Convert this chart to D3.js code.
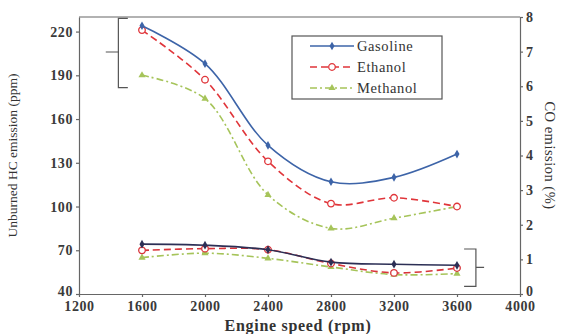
<!DOCTYPE html>
<html>
<head>
<meta charset="UTF-8" />
<title>HC and CO emission</title>
<script src="https://cdn.jsdelivr.net/npm/d3@7"></script>
<style>
    body { margin: 0; background: #fff; }
</style>
</head>
<body>
<script>
    // engine speed (rpm)
    const speeds = [1600, 2000, 2400, 2800, 3200, 3600];
    // unburned HC (ppm), left axis
    const hcGasoline = [224, 198, 142, 117, 120, 136];
    const hcEthanol = [221, 187, 131, 102, 106, 100];
    const hcMethanol = [190, 174, 108, 85, 92, 100];
    // CO (%), right axis
    const coGasoline = [1.44, 1.41, 1.28, 0.92, 0.86, 0.83];
    const coEthanol = [1.26, 1.31, 1.28, 0.88, 0.61, 0.75];
    const coMethanol = [1.05, 1.18, 1.03, 0.78, 0.56, 0.59];

    const xTicks = [1200, 1600, 2000, 2400, 2800, 3200, 3600, 4000];
    const hcTicks = [40, 70, 100, 130, 160, 190, 220];
    const coTicks = [0, 1, 2, 3, 4, 5, 6, 7, 8];
    const fuels = ["Gasoline", "Ethanol", "Methanol"];

    const serif = "Liberation Serif";

    let w = 568, h = 334;
    let m = { top: 17, right: 48, bottom: 40, left: 79 };

    let svg = d3.select("body").append("svg")
        .attr("width", w)
        .attr("height", h)
        .attr("font-family", serif);

    let x = d3.scaleLinear().domain([1200, 4000]).range([m.left, w - m.right]);
    let yL = d3.scaleLinear().domain([40, 230]).range([h - m.bottom, m.top]);
    let yR = d3.scaleLinear().domain([0, 8]).range([h - m.bottom, m.top]);

    const styles = {
        Gasoline: { color: "#3d64a8", low: "#2c2f55", dash: null, mark: "diamond" },
        Ethanol: { color: "#e0353a", low: "#d8343a", dash: "7,4", mark: "circle" },
        Methanol: { color: "#a6c45a", low: "#a6c45a", dash: "7,3,2,3", mark: "triangle" }
    };

    // axes
    let axisColor = "#666";
    let fmt = d3.format("d");
    let bottom = svg.append("g")
        .attr("transform", "translate(0," + (h - m.bottom) + ")")
        .call(d3.axisBottom(x).tickValues(xTicks).tickFormat(fmt).tickSize(3).tickPadding(2).tickSizeOuter(0));
    let left = svg.append("g")
        .attr("transform", "translate(" + m.left + ",0)")
        .call(d3.axisLeft(yL).tickValues(hcTicks).tickFormat(fmt).tickSize(3).tickSizeOuter(0));
    let right = svg.append("g")
        .attr("transform", "translate(" + (w - m.right) + ",0)")
        .call(d3.axisRight(yR).tickValues(coTicks).tickFormat(fmt).tickSize(3).tickSizeOuter(0));

    [bottom, left, right].forEach(function (a) {
        a.attr("font-family", serif).attr("font-size", 14);
        a.selectAll("path, line").attr("stroke", axisColor).attr("stroke-width", 1.2);
        a.selectAll("text")
            .attr("fill", "#3a3a3a")
            .attr("font-weight", "bold")
            .attr("letter-spacing", 0.6);
    });
    bottom.selectAll("text").attr("dy", "0.85em");
    // lift the lowest y labels a little so they clear the x labels
    left.selectAll("text").filter(function (d) { return d === 40; }).attr("dy", "0.12em");
    right.selectAll("text").filter(function (d) { return d === 0; }).attr("dy", "0.12em");

    // top frame line
    svg.append("line")
        .attr("x1", m.left).attr("x2", w - m.right)
        .attr("y1", m.top).attr("y2", m.top)
        .attr("stroke", axisColor).attr("stroke-width", 1.2);

    // axis titles
    svg.append("text")
        .attr("transform", "translate(17," + ((m.top + h - m.bottom) / 2) + ") rotate(-90)")
        .attr("text-anchor", "middle")
        .attr("fill", "#333")
        .attr("font-size", 13.5)
        .text("Unburned HC emission (ppm)");
    svg.append("text")
        .attr("transform", "translate(545," + ((m.top + h - m.bottom) / 2) + ") rotate(90)")
        .attr("text-anchor", "middle")
        .attr("fill", "#333")
        .attr("font-size", 14.5)
        .attr("letter-spacing", 0.5)
        .text("CO emission (%)");
    svg.append("text")
        .attr("x", 298).attr("y", 330.5)
        .attr("text-anchor", "middle")
        .attr("fill", "#333")
        .attr("font-size", 16)
        .attr("font-weight", "bold")
        .attr("letter-spacing", 0.7)
        .text("Engine speed (rpm)");

    function marker(sel, type, color) {
        if (type === "circle") {
            sel.append("circle").attr("r", 3.3)
                .attr("fill", "#fff").attr("stroke", color).attr("stroke-width", 1.3);
        } else {
            let sym = type === "diamond" ? d3.symbolDiamond : d3.symbolTriangle;
            sel.append("path").attr("d", d3.symbol().type(sym).size(22)())
                .attr("fill", color);
        }
    }

    function drawSeries(values, yScale, st, color) {
        let pts = speeds.map(function (s, i) { return [x(s), yScale(values[i])]; });
        svg.append("path")
            .attr("d", d3.line().curve(d3.curveCatmullRom.alpha(0.5))(pts))
            .attr("fill", "none")
            .attr("stroke", color)
            .attr("stroke-width", 1.6)
            .attr("stroke-dasharray", st.dash);
        pts.forEach(function (p) {
            let g = svg.append("g").attr("transform", "translate(" + p[0] + "," + p[1] + ")");
            marker(g, st.mark, color);
        });
    }

    const hcData = { Gasoline: hcGasoline, Ethanol: hcEthanol, Methanol: hcMethanol };
    const coData = { Gasoline: coGasoline, Ethanol: coEthanol, Methanol: coMethanol };

    fuels.slice().reverse().forEach(function (f) {
        drawSeries(coData[f], yR, styles[f], styles[f].low);
        drawSeries(hcData[f], yL, styles[f], styles[f].color);
    });

    // brackets showing which axis each group belongs to
    let bracket = svg.append("g").attr("fill", "none").attr("stroke", "#555").attr("stroke-width", 1.2);
    bracket.append("path").attr("d",
        "M" + x(1510) + "," + yL(229) + " L" + x(1450) + "," + yL(229) +
        " L" + x(1450) + "," + yL(181.5) + " L" + x(1510) + "," + yL(181.5) +
        " M" + x(1450) + "," + yL(206) + " L" + x(1370) + "," + yL(206));
    bracket.append("path").attr("d",
        "M" + x(3645) + "," + yR(1.3) + " L" + x(3720) + "," + yR(1.3) +
        " L" + x(3720) + "," + yR(0.22) + " L" + x(3645) + "," + yR(0.22) +
        " M" + x(3720) + "," + yR(0.77) + " L" + x(3772) + "," + yR(0.77));

    // legend
    let lg = svg.append("g").attr("transform", "translate(292,36)");
    lg.append("rect").attr("width", 150).attr("height", 63)
        .attr("fill", "#fff").attr("stroke", "#555").attr("stroke-width", 1.2);
    fuels.forEach(function (f, i) {
        let yy = 10 + i * 21;
        let st = styles[f];
        lg.append("line").attr("x1", 18).attr("x2", 62).attr("y1", yy).attr("y2", yy)
            .attr("stroke", st.color).attr("stroke-width", 1.6)
            .attr("stroke-dasharray", st.dash);
        let g = lg.append("g").attr("transform", "translate(40," + yy + ")");
        marker(g, st.mark, st.color);
        lg.append("text").attr("x", 65).attr("y", yy + 4.5)
            .attr("fill", "#333")
            .attr("font-size", 14.5)
            .attr("letter-spacing", 0.6)
            .text(f);
    });
</script>
</body>
</html>
